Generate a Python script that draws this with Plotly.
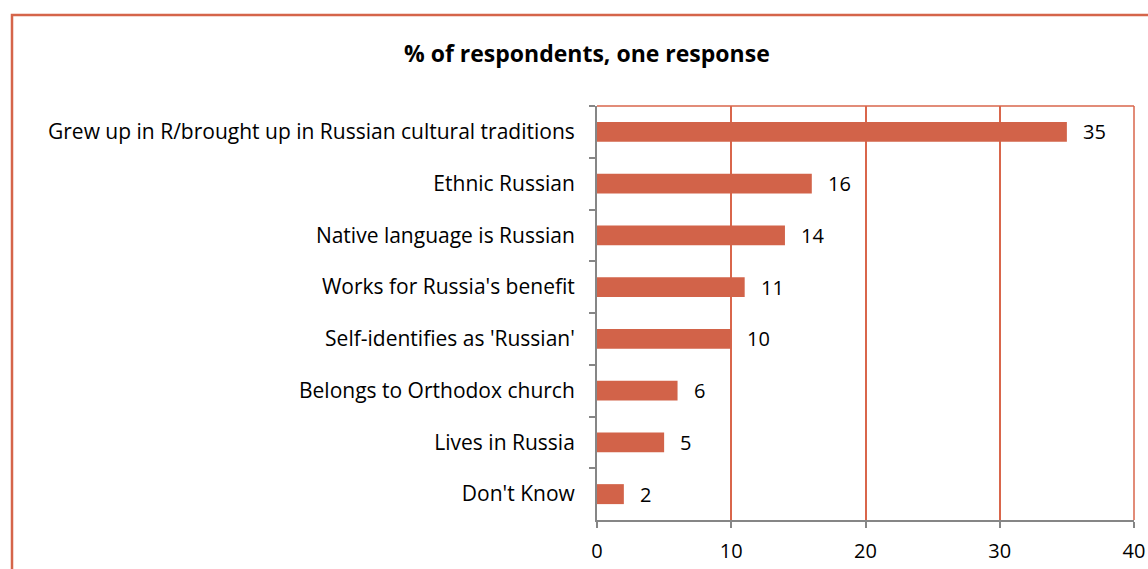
import plotly.graph_objects as go

# Survey answers, listed top to bottom as they appear in the chart
categories = [
    "Grew up in R/brought up in Russian cultural traditions",
    "Ethnic Russian",
    "Native language is Russian",
    "Works for Russia's benefit",
    "Self-identifies as 'Russian'",
    "Belongs to Orthodox church",
    "Lives in Russia",
    "Don't Know",
]
values = [35, 16, 14, 11, 10, 6, 5, 2]
x_ticks = [0, 10, 20, 30, 40]
title_text = "% of respondents, one response"

BAR = "#D26349"
GRID = "#D9664B"
AXIS = "#868686"
FONT = "Open Sans"

W, H = 1148, 569
L, R, T, B = 597, 14, 106, 49
pw, ph = W - L - R, H - T - B


def px_x(px):
    return (px - L) / pw


def px_y(py):
    return (H - B - py) / ph


fig = go.Figure(
    go.Bar(
        x=values,
        y=categories,
        orientation="h",
        marker=dict(color=BAR, line=dict(width=0)),
        hoverinfo="skip",
    )
)

# value labels sit just past the end of each bar
for cat, v in zip(categories, values):
    fig.add_annotation(
        x=v, y=cat, xref="x", yref="y", text=str(v), showarrow=False,
        xanchor="left", xshift=14, font=dict(family=FONT, size=20, color="#000000"),
    )

fig.add_annotation(
    x=px_x(587), y=px_y(53), xref="paper", yref="paper", text=f"<b>{title_text}</b>",
    showarrow=False, xanchor="center", yanchor="middle",
    font=dict(family=FONT, size=23, color="#000000"),
)

shapes = [
    # outer chart frame
    dict(type="rect", xref="paper", yref="paper", x0=px_x(12), x1=px_x(1170),
         y0=px_y(590), y1=px_y(15), line=dict(color="#D5654A", width=2.5), layer="above"),
    # plot-area border on top and right
    dict(type="line", xref="paper", yref="paper", x0=0, x1=1, y0=1, y1=1,
         line=dict(color=GRID, width=1.5)),
    dict(type="line", xref="paper", yref="paper", x0=1, x1=1, y0=0, y1=1,
         line=dict(color=GRID, width=1.5)),
]

fig.update_layout(
    width=W, height=H, autosize=False,
    margin=dict(l=L, r=R, t=T, b=B, pad=0, autoexpand=False),
    paper_bgcolor="white", plot_bgcolor="white",
    showlegend=False,
    bargap=0.614,
    shapes=shapes,
    font=dict(family=FONT, size=20, color="#000000"),
    xaxis=dict(
        range=[0, 40], tickvals=x_ticks, ticktext=[str(t) for t in x_ticks],
        showgrid=True, gridcolor=GRID, gridwidth=1.5,
        zeroline=False, showline=True, linecolor=AXIS, linewidth=2,
        ticks="outside", ticklen=6, tickcolor=AXIS, tickwidth=2,
        tickfont=dict(size=20), ticklabelstandoff=6, fixedrange=True, automargin=False,
    ),
    yaxis=dict(
        categoryorder="array", categoryarray=categories, autorange="reversed",
        showgrid=False, zeroline=False, showline=True, linecolor=AXIS, linewidth=2,
        ticks="outside", tickson="boundaries", ticklen=6, tickcolor=AXIS, tickwidth=2,
        tickfont=dict(size=21), ticklabelstandoff=16, fixedrange=True, automargin=False,
    ),
)

fig.write_html("out.html", config={"responsive": False})
